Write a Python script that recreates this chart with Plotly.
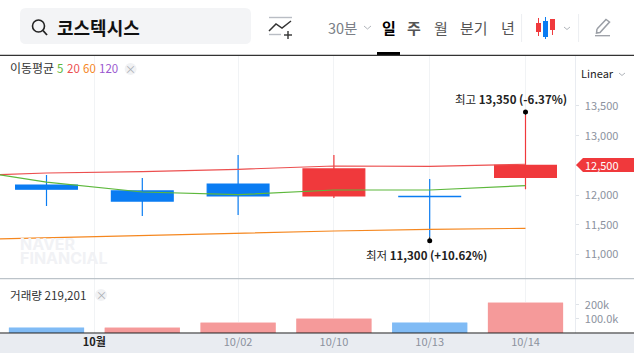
import plotly.graph_objects as go

# ---------- data ----------
idx = [0, 1, 2, 3, 4, 5]
opens = [12170, 12070, 12187, 11985, 11980, 12300]
highs = [12338, 12288, 12675, 12675, 12270, 13350]
lows = [11817, 11650, 11665, 11950, 11300, 12100]
closes = [12100, 11900, 11985, 12440, 11975, 12500]
volume = [42000, 42000, 78000, 106000, 78000, 219201]
vol_up = [False, True, True, True, False, True]
ma_idx = [-1, 0, 1, 2, 3, 4, 5]
ma5 = [12465, 12220, 12052, 12007, 12086, 12086, 12160]
ma20 = [12313, 12372, 12394, 12434, 12490, 12485, 12519]
ma60 = [11244, 11283, 11311, 11350, 11396, 11424, 11441]
x_tickvals = [0.5, 2, 3, 4, 5]
x_ticktext = ['<b><span style="color:#222">10월</span></b>', "10/02", "10/10", "10/13", "10/14"]
price_ticks = [11000, 11500, 12000, 12500, 13000, 13500]
vol_ticks = [100000, 200000]
vol_ticktext = ["100.0k", "200k"]

W, H = 634, 353
FONT = "Noto Sans CJK KR"
def px(x): return x / W
def py(y): return 1 - y / H
def pth(pts, close=False):
    s = "M" + " L".join(f"{px(x):.5f},{py(y):.5f}" for x, y in pts)
    return s + (" Z" if close else "")

shapes, ann = [], []
def line(pts, color, w=1, layer="above"):
    shapes.append(dict(type="path", xref="paper", yref="paper", path=pth(pts),
                       line=dict(color=color, width=w), layer=layer))
def rect(x0, y0, x1, y1, fill, layer="above"):
    shapes.append(dict(type="rect", xref="paper", yref="paper", x0=px(x0), x1=px(x1), y0=py(y1), y1=py(y0),
                       fillcolor=fill, line=dict(width=0), layer=layer))
def circle(cx, cy, r, fill=None, color=None, w=0):
    shapes.append(dict(type="circle", xref="paper", yref="paper", x0=px(cx - r), x1=px(cx + r), y0=py(cy + r), y1=py(cy - r),
                       fillcolor=fill or "rgba(0,0,0,0)", line=dict(color=color or "rgba(0,0,0,0)", width=w)))
def text(x, y, t, size=12, color="#333", anchor="left", family=FONT):
    ann.append(dict(xref="paper", yref="paper", x=px(x), y=py(y), text=t, showarrow=False, xanchor=anchor, yanchor="middle",
                    font=dict(size=size, color=color, family=family), borderpad=0, borderwidth=0))

fig = go.Figure()
fig.add_trace(go.Candlestick(x=idx, open=opens, high=highs, low=lows, close=closes, xaxis="x", yaxis="y",
    whiskerwidth=0, showlegend=False,
    increasing=dict(fillcolor="#f0393c", line=dict(color="#f0393c", width=1.2)),
    decreasing=dict(fillcolor="#0a7cf2", line=dict(color="#0a7cf2", width=1.2))))
for vals, c in ((ma60, "#f5871f"), (ma20, "#ec4f4f"), (ma5, "#5db83c")):
    fig.add_trace(go.Scatter(x=ma_idx, y=vals, mode="lines", line=dict(color=c, width=1.2), xaxis="x", yaxis="y",
                             showlegend=False, hoverinfo="skip"))
fig.add_trace(go.Bar(x=idx, y=volume, width=0.785, xaxis="x2", yaxis="y2", showlegend=False,
                     marker=dict(color=["#fbcfcf" if u else "#bcdcfb" for u in vol_up], line=dict(width=0))))
fig.add_trace(go.Bar(x=idx, y=[v - 7000 for v in volume], width=0.785, xaxis="x2", yaxis="y2", showlegend=False,
                     marker=dict(color=["#f59a9a" if u else "#80bbf5" for u in vol_up], line=dict(width=0))))

# ---------- frame ----------
rect(0, 333, W, H, "#e9ecf1", "below")
rect(377, 52, 400, 55, "#000")
line([(0, 55.3), (W, 55.3)], "#333", 1.2)
line([(0, 278.7), (W, 278.7)], "#bcc3c9", 1.2)
line([(0, 333), (W, 333)], "#222", 1)

# search box
shapes.append(dict(type="path", xref="paper", yref="paper", fillcolor="#f3f4f6", line=dict(width=0), layer="below",
    path=f"M{px(26)},{py(8)} L{px(245)},{py(8)} Q{px(251)},{py(8)} {px(251)},{py(14)} L{px(251)},{py(38)} Q{px(251)},{py(44)} {px(245)},{py(44)}"
         f" L{px(26)},{py(44)} Q{px(20)},{py(44)} {px(20)},{py(38)} L{px(20)},{py(14)} Q{px(20)},{py(8)} {px(26)},{py(8)} Z"))
circle(38.5, 26, 6, color="#222", w=1.6)
line([(43, 30.5), (47, 35)], "#222", 1.8)
text(57, 27, "<b>코스텍시스</b>", 18, "#111")

# add-indicator icon
line([(269, 17.5), (292, 17.5)], "#b9bdc4", 1.4)
line([(269, 34.5), (281, 34.5)], "#b9bdc4", 1.4)
line([(269, 31), (276, 24), (282, 28), (291, 21)], "#333", 1.5)
line([(288, 31), (288, 39)], "#333", 1.4)
line([(284, 35), (292, 35)], "#333", 1.4)

# period tabs
text(342.5, 27, "30분", 14.5, "#7b7f87", "center")
line([(364, 26), (367.5, 29), (371, 26)], "#b0b4ba", 1)
text(389, 27, "<b>일</b>", 15, "#000", "center")
text(414, 27, "<b>주</b>", 15, "#555", "center")
text(441, 27, "월", 15, "#555", "center")
text(474, 27, "분기", 15, "#555", "center")
text(508, 27, "년", 15, "#555", "center")
line([(521.6, 14), (521.6, 42)], "#eceef1", 1)
line([(578.6, 14), (578.6, 42)], "#eceef1", 1)
# candle icon
line([(538.5, 18), (538.5, 36)], "#f0393c", 1)
rect(536, 23, 541, 32, "#f0393c")
line([(545.5, 17), (545.5, 39)], "#0a7cf2", 1)
rect(543, 21, 548, 37, "#0a7cf2")
line([(552.5, 19), (552.5, 35)], "#f0393c", 1)
rect(550, 19, 555, 30, "#f0393c")
line([(564, 27), (567, 29.5), (570, 27)], "#b0b4ba", 1)
# pencil icon
line([(597, 29), (606, 19.5), (609.5, 22), (600, 32.5), (596.5, 33), (597, 29)], "#9a9ea5", 1.5)
line([(595, 35.7), (610, 35.7)], "#9a9ea5", 1.3)

# legend row
text(10, 68, "이동평균", 12, "#333")
text(56.5, 68, "5", 11.5, "#5db83c")
text(66.5, 68, "20", 11.5, "#ec4f4f")
text(82.5, 68, "60", 11.5, "#f5871f")
text(98.5, 68, "120", 11.5, "#9b59d0")
circle(130.6, 69, 6, fill="#f1f2f4")
text(130.6, 68.5, "×", 11, "#a9adb3", "center")
text(581, 73, "Linear", 11, "#222")
line([(619, 73), (622, 75.5), (625, 73)], "#b0b4ba", 1)

# volume label
text(10, 294.5, "거래량 219,201", 11.6, "#333")
circle(101, 295, 6, fill="#f1f2f4")
text(101, 294.5, "×", 11, "#a9adb3", "center")

# watermark
text(20, 243.5, "<b>NAVER</b>", 16, "#f1f2f5", family="Inter")
text(20, 258, "<b>FINANCIAL</b>", 16, "#f1f2f5", family="Inter")

# price tag
shapes.append(dict(type="path", xref="paper", yref="paper", fillcolor="#f0393c", line=dict(width=0),
                   path=pth([(576, 165), (583, 158), (634, 158), (634, 172), (583, 172)], True)))
text(585, 165, "12,500", 11, "#fff")

# hi/lo markers, anchored to the data
for xv, yv, y0, y1 in ((5, max(highs), 0, 3), (4, min(lows), -3, 0)):
    shapes.append(dict(type="line", xref="x", yref="y", xsizemode="pixel", ysizemode="pixel", xanchor=xv, yanchor=yv,
                       x0=0, x1=0, y0=y0, y1=y1, line=dict(color="#222", width=1)))
shapes.append(dict(type="circle", xref="x", yref="y", xsizemode="pixel", ysizemode="pixel", xanchor=5, yanchor=max(highs),
                   x0=-2.5, x1=2.5, y0=0.5, y1=5.5, fillcolor="#000", line=dict(width=0)))
shapes.append(dict(type="circle", xref="x", yref="y", xsizemode="pixel", ysizemode="pixel", xanchor=4, yanchor=min(lows),
                   x0=-2.5, x1=2.5, y0=-6.5, y1=-1.5, fillcolor="#000", line=dict(width=0)))
ann.append(dict(x=5, y=max(highs), xref="x", yref="y", xshift=-14.5, yshift=15.5, showarrow=False, xanchor="center", yanchor="middle",
                text=f"최고 <b>{max(highs):,}</b> <b>(-6.37%)</b>", font=dict(size=11.5, color="#222", family=FONT)))
ann.append(dict(x=4, y=min(lows), xref="x", yref="y", xshift=-3, yshift=-18.5, showarrow=False, xanchor="center", yanchor="middle",
                text=f"최저 <b>{min(lows):,}</b> <b>(+10.62%)</b>", font=dict(size=11.5, color="#222", family=FONT)))

XR = [-46.5 / 95.8, (574.6 - 46.5) / 95.8]
GRID = "#f1f3f5"
TICK = dict(color="#8c929e", size=11, family=FONT)
ax = dict(range=XR, domain=[0, 574.6 / W], tickmode="array", tickvals=x_tickvals, showgrid=True, gridcolor=GRID, gridwidth=1,
          zeroline=False, showline=False, fixedrange=True)
fig.update_layout(
    width=W, height=H, margin=dict(l=0, r=0, t=0, b=0), paper_bgcolor="#fff", plot_bgcolor="rgba(0,0,0,0)",
    boxgap=0.355, boxgroupgap=0, barmode="overlay", font=dict(family=FONT), showlegend=False,
    xaxis=dict(**ax, anchor="y", showticklabels=False, ticks="", rangeslider=dict(visible=False)),
    xaxis2=dict(**ax, anchor="y2", ticktext=x_ticktext, ticks="", tickfont=dict(color="#8c929e", size=11, family=FONT), ticklabelstandoff=1),
    yaxis=dict(domain=[py(278.7), py(55.3)], range=[10593, 14353], side="right", anchor="x", tickmode="array", tickvals=price_ticks,
               tickformat=",d", tickfont=TICK, ticks="outside", ticklen=3, tickcolor="#dfe3e8", showgrid=False, zeroline=False,
               showline=True, linecolor="#e9ecf1", ticklabelstandoff=4, fixedrange=True),
    yaxis2=dict(domain=[py(333), py(278.7)], range=[0, 385000], side="right", anchor="x2", tickmode="array", tickvals=vol_ticks,
                ticktext=vol_ticktext, tickfont=TICK, ticks="outside", ticklen=3, tickcolor="#dfe3e8", showgrid=False, zeroline=False,
                showline=True, linecolor="#e9ecf1", ticklabelstandoff=4, fixedrange=True),
    shapes=shapes, annotations=ann,
)
fig.write_html("out.html", config=dict(displayModeBar=False),
               post_script="document.body.style.margin='0';document.body.style.overflow='hidden';")
